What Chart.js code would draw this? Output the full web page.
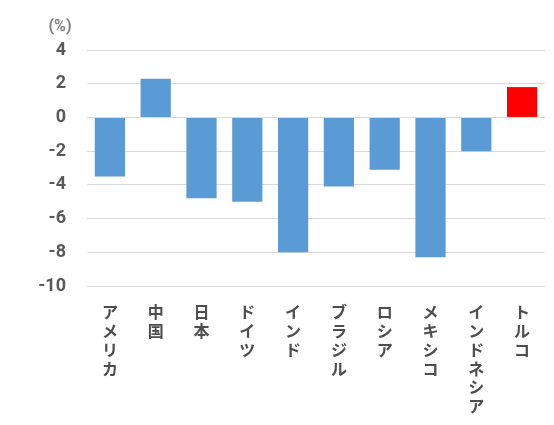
<!DOCTYPE html>
<html>
<head>
<meta charset="utf-8">
<script src="https://cdn.jsdelivr.net/npm/chart.js@4"></script>
<style>
html,body{margin:0;padding:0;background:#fff;}
#wrap{position:relative;width:554px;height:425px;}
</style>
</head>
<body>
<div id="wrap"><canvas id="c" width="554" height="425"></canvas></div>
<script>
const categories = ["アメリカ","中国","日本","ドイツ","インド","ブラジル","ロシア","メキシコ","インドネシア","トルコ"];
const values = [-3.5, 2.3, -4.8, -5.0, -8.0, -4.1, -3.1, -8.3, -2.0, 1.8];
const barColors = ["#5b9bd5","#5b9bd5","#5b9bd5","#5b9bd5","#5b9bd5","#5b9bd5","#5b9bd5","#5b9bd5","#5b9bd5","#ff0000"];
const yTicks = [4, 2, 0, -2, -4, -6, -8, -10];
const unitLabel = "(%)";

const verticalLabels = categories.map(s => Array.from(s));

const unitPlugin = {
  id: 'unitLabel',
  afterDraw(chart) {
    const ctx = chart.ctx;
    ctx.save();
    ctx.font = 'bold 16px Roboto, "Noto Sans CJK JP", sans-serif';
    ctx.fillStyle = '#7f7f7f';
    ctx.textAlign = 'center';
    ctx.textBaseline = 'middle';
    ctx.fillText(unitLabel, 60, 27);
    ctx.restore();
  }
};

new Chart(document.getElementById('c'), {
  type: 'bar',
  data: {
    labels: verticalLabels,
    datasets: [{
      data: values,
      backgroundColor: barColors,
      borderWidth: 0,
      barPercentage: 0.66,
      categoryPercentage: 1.0
    }]
  },
  options: {
    responsive: false,
    animation: false,
    devicePixelRatio: 1,
    layout: { padding: { left: 0, right: 9, top: 50, bottom: 0 } },
    plugins: { legend: { display: false }, tooltip: { enabled: false } },
    scales: {
      x: {
        grid: { display: false },
        border: { display: false },
        ticks: {
          autoSkip: false,
          maxRotation: 0,
          minRotation: 0,
          padding: 9,
          color: '#4d4d4d',
          font: { family: '"Noto Sans CJK JP", sans-serif', size: 16, weight: 'bold', lineHeight: 1.17 }
        },
        afterFit(scale) { scale.height = 139; }
      },
      y: {
        min: -10,
        max: 4,
        afterBuildTicks(scale) { scale.ticks = yTicks.map(v => ({ value: v })); },
        grid: { color: '#d9d9d9', lineWidth: 1, drawTicks: false },
        border: { display: false },
        ticks: {
          padding: 21,
          color: '#595959',
          font: { family: 'Roboto, sans-serif', size: 18, weight: 'bold' }
        },
        afterFit(scale) { scale.width = 87; }
      }
    }
  },
  plugins: [unitPlugin]
});
</script>
</body>
</html>
